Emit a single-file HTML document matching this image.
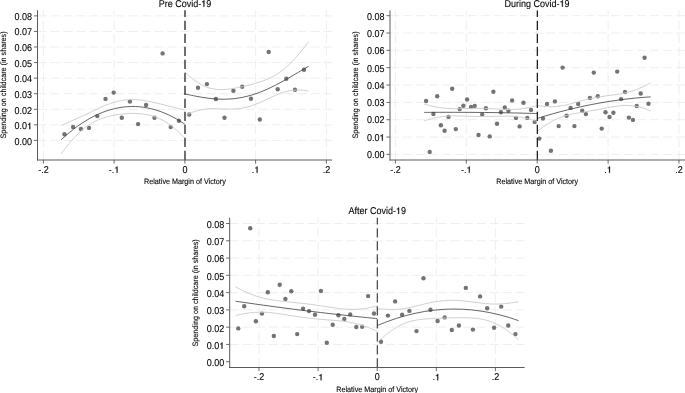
<!DOCTYPE html>
<html><head><meta charset="utf-8"><style>
html,body{margin:0;padding:0;background:#fff;}
body{width:685px;height:393px;overflow:hidden;}
svg{display:block;will-change:transform;text-rendering:geometricPrecision;}
text{font-family:"Liberation Sans", sans-serif;fill:#000;stroke:#000;stroke-width:0.1px;}
.gr{stroke:#ececec;stroke-width:0.9;stroke-dasharray:9.1 3.9;fill:none;}
.ax{stroke:#5a5a5a;stroke-width:1;}
.tk{stroke:#5a5a5a;stroke-width:0.9;}
.zl{stroke:#222;stroke-width:1.3;stroke-dasharray:9.2 3.8;}
.fit{stroke:#3c3c3c;stroke-width:0.8;fill:none;}
.ci{stroke:#cbcbcb;stroke-width:0.9;fill:none;}
.pt{fill:#737373;}
.yl{font-size:9px;text-anchor:end;}
.xl{font-size:9px;text-anchor:middle;}
.tt{font-size:9px;text-anchor:middle;}
.xt{font-size:7.2px;text-anchor:middle;}
.yt{font-size:7.2px;text-anchor:middle;}
.o1{fill:none;stroke:none;}
.one{fill:#000;stroke:#000;stroke-width:28;}
</style></head><body>
<svg width="685" height="393" viewBox="0 0 685 393">
<line x1="37.5" y1="140.4" x2="332" y2="140.4" class="gr"/>
<line x1="37.5" y1="124.84" x2="332" y2="124.84" class="gr"/>
<line x1="37.5" y1="109.27" x2="332" y2="109.27" class="gr"/>
<line x1="37.5" y1="93.71" x2="332" y2="93.71" class="gr"/>
<line x1="37.5" y1="78.14" x2="332" y2="78.14" class="gr"/>
<line x1="37.5" y1="62.58" x2="332" y2="62.58" class="gr"/>
<line x1="37.5" y1="47.01" x2="332" y2="47.01" class="gr"/>
<line x1="37.5" y1="31.45" x2="332" y2="31.45" class="gr"/>
<line x1="37.5" y1="15.88" x2="332" y2="15.88" class="gr"/>
<line x1="43.4" y1="160" x2="43.4" y2="10.2" class="gr"/>
<line x1="114.1" y1="160" x2="114.1" y2="10.2" class="gr"/>
<line x1="255.6" y1="160" x2="255.6" y2="10.2" class="gr"/>
<line x1="326.4" y1="160" x2="326.4" y2="10.2" class="gr"/>
<circle cx="64.5" cy="134.2" r="2.2" class="pt"/>
<circle cx="73.1" cy="127" r="2.2" class="pt"/>
<circle cx="80.9" cy="128.9" r="2.2" class="pt"/>
<circle cx="89" cy="127.9" r="2.2" class="pt"/>
<circle cx="97.3" cy="116.1" r="2.2" class="pt"/>
<circle cx="105.5" cy="98.9" r="2.2" class="pt"/>
<circle cx="113.7" cy="92.6" r="2.2" class="pt"/>
<circle cx="121.8" cy="117.8" r="2.2" class="pt"/>
<circle cx="129.9" cy="101.6" r="2.2" class="pt"/>
<circle cx="138.1" cy="124.1" r="2.2" class="pt"/>
<circle cx="146.1" cy="105" r="2.2" class="pt"/>
<circle cx="154.5" cy="117.8" r="2.2" class="pt"/>
<circle cx="162.6" cy="53.4" r="2.2" class="pt"/>
<circle cx="170.7" cy="127.1" r="2.2" class="pt"/>
<circle cx="178.9" cy="120.7" r="2.2" class="pt"/>
<circle cx="189.2" cy="114.5" r="2.2" class="pt"/>
<circle cx="198" cy="87.8" r="2.2" class="pt"/>
<circle cx="206.9" cy="84.1" r="2.2" class="pt"/>
<circle cx="215.9" cy="99" r="2.2" class="pt"/>
<circle cx="224.5" cy="117.8" r="2.2" class="pt"/>
<circle cx="233.4" cy="90.7" r="2.2" class="pt"/>
<circle cx="242.2" cy="86.8" r="2.2" class="pt"/>
<circle cx="251" cy="98.7" r="2.2" class="pt"/>
<circle cx="259.8" cy="119.5" r="2.2" class="pt"/>
<circle cx="268.7" cy="51.9" r="2.2" class="pt"/>
<circle cx="277.7" cy="89.2" r="2.2" class="pt"/>
<circle cx="286.3" cy="78.7" r="2.2" class="pt"/>
<circle cx="295" cy="89.7" r="2.2" class="pt"/>
<circle cx="304" cy="69.7" r="2.2" class="pt"/>
<path d="M61.1,125.62 C62.47,125 66.6,123.11 69.35,121.88 C72.1,120.64 74.84,119.45 77.59,118.21 C80.34,116.97 83.09,115.73 85.84,114.44 C88.59,113.16 91.34,111.79 94.09,110.5 C96.84,109.2 99.58,107.84 102.33,106.65 C105.08,105.47 107.83,104.33 110.58,103.39 C113.33,102.46 116.08,101.66 118.83,101.06 C121.58,100.46 124.32,100.04 127.07,99.8 C129.82,99.56 132.57,99.52 135.32,99.62 C138.07,99.72 140.82,100.02 143.57,100.41 C146.32,100.8 149.06,101.36 151.81,101.94 C154.56,102.52 157.31,103.22 160.06,103.88 C162.81,104.55 165.56,105.25 168.31,105.94 C171.06,106.63 173.8,107.31 176.55,108 C179.3,108.7 183.43,109.77 184.8,110.13" class="ci"/>
<path d="M61.1,153.95 C62.47,152.17 66.6,146.52 69.35,143.23 C72.1,139.94 74.84,136.9 77.59,134.2 C80.34,131.51 83.09,129.11 85.84,127.05 C88.59,124.98 91.34,123.29 94.09,121.83 C96.84,120.37 99.58,119.27 102.33,118.29 C105.08,117.3 107.83,116.57 110.58,115.92 C113.33,115.28 116.08,114.79 118.83,114.4 C121.58,114.01 124.32,113.74 127.07,113.58 C129.82,113.42 132.57,113.36 135.32,113.44 C138.07,113.53 140.82,113.72 143.57,114.11 C146.32,114.5 149.06,115.01 151.81,115.8 C154.56,116.59 157.31,117.56 160.06,118.85 C162.81,120.14 165.56,121.69 168.31,123.55 C171.06,125.41 173.8,127.57 176.55,130.01 C179.3,132.45 183.43,136.83 184.8,138.19" class="ci"/>
<path d="M61.1,139.79 C62.47,138.58 66.6,134.82 69.35,132.56 C72.1,130.29 74.84,128.18 77.59,126.21 C80.34,124.24 83.09,122.42 85.84,120.74 C88.59,119.07 91.34,117.54 94.09,116.16 C96.84,114.79 99.58,113.55 102.33,112.47 C105.08,111.38 107.83,110.45 110.58,109.66 C113.33,108.87 116.08,108.23 118.83,107.73 C121.58,107.24 124.32,106.89 127.07,106.69 C129.82,106.49 132.57,106.44 135.32,106.53 C138.07,106.63 140.82,106.87 143.57,107.26 C146.32,107.65 149.06,108.19 151.81,108.87 C154.56,109.55 157.31,110.39 160.06,111.37 C162.81,112.34 165.56,113.47 168.31,114.74 C171.06,116.02 173.8,117.44 176.55,119.01 C179.3,120.58 183.43,123.3 184.8,124.16" class="fit"/>
<path d="M185.3,72.61 C186.67,73.76 190.78,77.49 193.52,79.53 C196.26,81.57 199,83.41 201.74,84.85 C204.48,86.29 207.22,87.41 209.96,88.18 C212.7,88.96 215.44,89.31 218.18,89.5 C220.92,89.69 223.66,89.52 226.4,89.31 C229.14,89.09 231.88,88.66 234.62,88.21 C237.36,87.76 240.1,87.2 242.84,86.59 C245.58,85.99 248.32,85.33 251.06,84.59 C253.8,83.86 256.54,83.09 259.28,82.18 C262.02,81.27 264.76,80.33 267.5,79.13 C270.24,77.93 272.98,76.64 275.72,74.99 C278.46,73.33 281.2,71.43 283.94,69.18 C286.68,66.93 289.42,64.32 292.16,61.49 C294.9,58.65 297.64,55.48 300.38,52.17 C303.12,48.86 307.23,43.4 308.6,41.65" class="ci"/>
<path d="M185.3,115.35 C186.67,114.78 190.78,112.86 193.52,111.92 C196.26,110.98 199,110.23 201.74,109.71 C204.48,109.18 207.22,108.9 209.96,108.75 C212.7,108.6 215.44,108.73 218.18,108.8 C220.92,108.87 223.66,109.11 226.4,109.15 C229.14,109.19 231.88,109.23 234.62,109.04 C237.36,108.86 240.1,108.54 242.84,108.02 C245.58,107.5 248.32,106.78 251.06,105.91 C253.8,105.04 256.54,103.95 259.28,102.8 C262.02,101.66 264.76,100.29 267.5,99.02 C270.24,97.76 272.98,96.35 275.72,95.21 C278.46,94.06 281.2,92.96 283.94,92.15 C286.68,91.35 289.42,90.74 292.16,90.38 C294.9,90.02 297.64,89.9 300.38,90 C303.12,90.11 307.23,90.85 308.6,91.02" class="ci"/>
<path d="M185.3,93.98 C186.67,94.27 190.78,95.18 193.52,95.73 C196.26,96.28 199,96.82 201.74,97.28 C204.48,97.74 207.22,98.15 209.96,98.47 C212.7,98.78 215.44,99.02 218.18,99.15 C220.92,99.28 223.66,99.32 226.4,99.23 C229.14,99.14 231.88,98.95 234.62,98.63 C237.36,98.31 240.1,97.87 242.84,97.31 C245.58,96.74 248.32,96.05 251.06,95.25 C253.8,94.45 256.54,93.52 259.28,92.49 C262.02,91.46 264.76,90.31 267.5,89.08 C270.24,87.85 272.98,86.5 275.72,85.1 C278.46,83.69 281.2,82.19 283.94,80.67 C286.68,79.14 289.42,77.53 292.16,75.94 C294.9,74.34 297.64,72.69 300.38,71.09 C303.12,69.49 307.23,67.13 308.6,66.33" class="fit"/>
<line x1="185" y1="160" x2="185" y2="10.2" class="zl" style="stroke:#222"/>
<line x1="37.5" y1="10.2" x2="37.5" y2="160.5" class="ax"/>
<line x1="37" y1="160" x2="332" y2="160" class="ax"/>
<line x1="33.9" y1="140.4" x2="37.5" y2="140.4" class="tk"/>
<text transform="translate(32.1,144.8) scale(1,1.1)" class="yl">0.00</text>
<line x1="33.9" y1="124.84" x2="37.5" y2="124.84" class="tk"/>
<g transform="translate(32.1,129.16) scale(1,1.1)"><text class="yl">0.0<tspan class="o1">1</tspan></text><path d="M347 0V709H289C258 600 238 585 102 568V505H259V0Z" class="one" transform="translate(-5.031,0) scale(0.00900,-0.00818)"/></g>
<line x1="33.9" y1="109.27" x2="37.5" y2="109.27" class="tk"/>
<text transform="translate(32.1,113.52) scale(1,1.1)" class="yl">0.02</text>
<line x1="33.9" y1="93.71" x2="37.5" y2="93.71" class="tk"/>
<text transform="translate(32.1,97.88) scale(1,1.1)" class="yl">0.03</text>
<line x1="33.9" y1="78.14" x2="37.5" y2="78.14" class="tk"/>
<text transform="translate(32.1,82.24) scale(1,1.1)" class="yl">0.04</text>
<line x1="33.9" y1="62.58" x2="37.5" y2="62.58" class="tk"/>
<text transform="translate(32.1,66.6) scale(1,1.1)" class="yl">0.05</text>
<line x1="33.9" y1="47.01" x2="37.5" y2="47.01" class="tk"/>
<text transform="translate(32.1,50.96) scale(1,1.1)" class="yl">0.06</text>
<line x1="33.9" y1="31.45" x2="37.5" y2="31.45" class="tk"/>
<text transform="translate(32.1,35.32) scale(1,1.1)" class="yl">0.07</text>
<line x1="33.9" y1="15.88" x2="37.5" y2="15.88" class="tk"/>
<text transform="translate(32.1,19.68) scale(1,1.1)" class="yl">0.08</text>
<line x1="43.4" y1="160" x2="43.4" y2="163.6" class="tk"/>
<text transform="translate(43.4,172.8) scale(1,1.1)" class="xl">-.2</text>
<line x1="114.1" y1="160" x2="114.1" y2="163.6" class="tk"/>
<g transform="translate(114.1,172.8) scale(1,1.1)"><text class="xl">-.<tspan class="o1">1</tspan></text><path d="M347 0V709H289C258 600 238 585 102 568V505H259V0Z" class="one" transform="translate(0.227,0) scale(0.00900,-0.00818)"/></g>
<line x1="184.9" y1="160" x2="184.9" y2="163.6" class="tk"/>
<text transform="translate(184.9,172.8) scale(1,1.1)" class="xl">0</text>
<line x1="255.6" y1="160" x2="255.6" y2="163.6" class="tk"/>
<g transform="translate(255.6,172.8) scale(1,1.1)"><text class="xl">.<tspan class="o1">1</tspan></text><path d="M347 0V709H289C258 600 238 585 102 568V505H259V0Z" class="one" transform="translate(-1.258,0) scale(0.00900,-0.00818)"/></g>
<line x1="326.4" y1="160" x2="326.4" y2="163.6" class="tk"/>
<text transform="translate(326.4,172.8) scale(1,1.1)" class="xl">.2</text>
<g transform="translate(185,6.7) scale(1,1.1)"><text class="tt">Pre Covid-<tspan class="o1">1</tspan>9</text><path d="M347 0V709H289C258 600 238 585 102 568V505H259V0Z" class="one" transform="translate(16.234,0) scale(0.00900,-0.00818)"/></g>
<text transform="translate(184.9,183.8) scale(1,1.1)" class="xt">Relative Margin of Victory</text>
<text transform="translate(6,85) rotate(-90) scale(1,1.1)" class="yt">Spending on childcare (in shares)</text>
<line x1="390" y1="154.4" x2="686" y2="154.4" class="gr"/>
<line x1="390" y1="137.06" x2="686" y2="137.06" class="gr"/>
<line x1="390" y1="119.72" x2="686" y2="119.72" class="gr"/>
<line x1="390" y1="102.38" x2="686" y2="102.38" class="gr"/>
<line x1="390" y1="85.04" x2="686" y2="85.04" class="gr"/>
<line x1="390" y1="67.7" x2="686" y2="67.7" class="gr"/>
<line x1="390" y1="50.36" x2="686" y2="50.36" class="gr"/>
<line x1="390" y1="33.02" x2="686" y2="33.02" class="gr"/>
<line x1="390" y1="15.68" x2="686" y2="15.68" class="gr"/>
<line x1="395.4" y1="160" x2="395.4" y2="10.4" class="gr"/>
<line x1="466.3" y1="160" x2="466.3" y2="10.4" class="gr"/>
<line x1="608.1" y1="160" x2="608.1" y2="10.4" class="gr"/>
<line x1="679" y1="160" x2="679" y2="10.4" class="gr"/>
<circle cx="426.1" cy="101" r="2.2" class="pt"/>
<circle cx="429.7" cy="151.9" r="2.2" class="pt"/>
<circle cx="433.4" cy="114" r="2.2" class="pt"/>
<circle cx="437.2" cy="96.3" r="2.2" class="pt"/>
<circle cx="440.9" cy="125.2" r="2.2" class="pt"/>
<circle cx="444.6" cy="130.7" r="2.2" class="pt"/>
<circle cx="448.5" cy="116.9" r="2.2" class="pt"/>
<circle cx="452.2" cy="88.8" r="2.2" class="pt"/>
<circle cx="455.8" cy="129.1" r="2.2" class="pt"/>
<circle cx="459.7" cy="109.1" r="2.2" class="pt"/>
<circle cx="463.4" cy="105.8" r="2.2" class="pt"/>
<circle cx="467.1" cy="99.5" r="2.2" class="pt"/>
<circle cx="471" cy="106.9" r="2.2" class="pt"/>
<circle cx="474.7" cy="105.9" r="2.2" class="pt"/>
<circle cx="478.5" cy="135" r="2.2" class="pt"/>
<circle cx="482.2" cy="114.6" r="2.2" class="pt"/>
<circle cx="485.9" cy="108.3" r="2.2" class="pt"/>
<circle cx="489.7" cy="136.4" r="2.2" class="pt"/>
<circle cx="493.4" cy="91.8" r="2.2" class="pt"/>
<circle cx="497" cy="123.8" r="2.2" class="pt"/>
<circle cx="500.9" cy="112.2" r="2.2" class="pt"/>
<circle cx="504.8" cy="107.5" r="2.2" class="pt"/>
<circle cx="508.4" cy="110.7" r="2.2" class="pt"/>
<circle cx="512.1" cy="100.4" r="2.2" class="pt"/>
<circle cx="516" cy="117.9" r="2.2" class="pt"/>
<circle cx="519.6" cy="126.4" r="2.2" class="pt"/>
<circle cx="523.5" cy="102.8" r="2.2" class="pt"/>
<circle cx="527.3" cy="117.9" r="2.2" class="pt"/>
<circle cx="531" cy="109.9" r="2.2" class="pt"/>
<circle cx="534.7" cy="121.9" r="2.2" class="pt"/>
<circle cx="539.3" cy="138.6" r="2.2" class="pt"/>
<circle cx="543" cy="118.6" r="2.2" class="pt"/>
<circle cx="547" cy="103.9" r="2.2" class="pt"/>
<circle cx="550.9" cy="150.8" r="2.2" class="pt"/>
<circle cx="554.9" cy="101.4" r="2.2" class="pt"/>
<circle cx="558.7" cy="126.1" r="2.2" class="pt"/>
<circle cx="562.6" cy="67.6" r="2.2" class="pt"/>
<circle cx="566.6" cy="115.8" r="2.2" class="pt"/>
<circle cx="570.6" cy="107.9" r="2.2" class="pt"/>
<circle cx="574.4" cy="126.1" r="2.2" class="pt"/>
<circle cx="578.2" cy="104" r="2.2" class="pt"/>
<circle cx="582.2" cy="110.8" r="2.2" class="pt"/>
<circle cx="585.9" cy="114.1" r="2.2" class="pt"/>
<circle cx="589.9" cy="98" r="2.2" class="pt"/>
<circle cx="593.8" cy="72.6" r="2.2" class="pt"/>
<circle cx="597.8" cy="96.2" r="2.2" class="pt"/>
<circle cx="601.7" cy="128.6" r="2.2" class="pt"/>
<circle cx="605.5" cy="112.3" r="2.2" class="pt"/>
<circle cx="609.5" cy="117" r="2.2" class="pt"/>
<circle cx="613.4" cy="112.7" r="2.2" class="pt"/>
<circle cx="617.2" cy="71.6" r="2.2" class="pt"/>
<circle cx="621.1" cy="99.1" r="2.2" class="pt"/>
<circle cx="625" cy="92" r="2.2" class="pt"/>
<circle cx="628.9" cy="117.6" r="2.2" class="pt"/>
<circle cx="633" cy="119.9" r="2.2" class="pt"/>
<circle cx="636.7" cy="106" r="2.2" class="pt"/>
<circle cx="640.7" cy="93.5" r="2.2" class="pt"/>
<circle cx="644.6" cy="57.7" r="2.2" class="pt"/>
<circle cx="648.5" cy="103.8" r="2.2" class="pt"/>
<path d="M424.2,104.02 C425.46,104.37 429.22,105.47 431.73,106.07 C434.24,106.66 436.76,107.19 439.27,107.6 C441.78,108 444.29,108.3 446.8,108.5 C449.31,108.7 451.82,108.75 454.33,108.78 C456.84,108.81 459.36,108.72 461.87,108.67 C464.38,108.62 466.89,108.52 469.4,108.47 C471.91,108.42 474.42,108.38 476.93,108.38 C479.44,108.38 481.96,108.41 484.47,108.47 C486.98,108.53 489.49,108.64 492,108.75 C494.51,108.87 497.02,109.04 499.53,109.16 C502.04,109.29 504.56,109.46 507.07,109.52 C509.58,109.57 512.09,109.6 514.6,109.48 C517.11,109.36 519.62,109.13 522.13,108.79 C524.64,108.45 527.16,107.97 529.67,107.44 C532.18,106.9 535.94,105.87 537.2,105.55" class="ci"/>
<path d="M424.2,120.78 C425.46,120.42 429.22,119.25 431.73,118.63 C434.24,118 436.76,117.45 439.27,117.03 C441.78,116.61 444.29,116.3 446.8,116.09 C449.31,115.89 451.82,115.84 454.33,115.82 C456.84,115.8 459.36,115.9 461.87,115.97 C464.38,116.04 466.89,116.17 469.4,116.25 C471.91,116.33 474.42,116.41 476.93,116.45 C479.44,116.5 481.96,116.52 484.47,116.51 C486.98,116.5 489.49,116.46 492,116.41 C494.51,116.36 497.02,116.27 499.53,116.23 C502.04,116.18 504.56,116.1 507.07,116.14 C509.58,116.18 512.09,116.24 514.6,116.47 C517.11,116.69 519.62,117.04 522.13,117.49 C524.64,117.95 527.16,118.55 529.67,119.22 C532.18,119.88 535.94,121.12 537.2,121.5" class="ci"/>
<path d="M424.2,112.4 C425.46,112.39 429.22,112.36 431.73,112.35 C434.24,112.33 436.76,112.32 439.27,112.31 C441.78,112.3 444.29,112.3 446.8,112.3 C449.31,112.29 451.82,112.29 454.33,112.3 C456.84,112.3 459.36,112.31 461.87,112.32 C464.38,112.33 466.89,112.34 469.4,112.36 C471.91,112.37 474.42,112.39 476.93,112.41 C479.44,112.44 481.96,112.46 484.47,112.49 C486.98,112.52 489.49,112.55 492,112.58 C494.51,112.62 497.02,112.65 499.53,112.7 C502.04,112.74 504.56,112.78 507.07,112.83 C509.58,112.87 512.09,112.92 514.6,112.97 C517.11,113.03 519.62,113.08 522.13,113.14 C524.64,113.2 527.16,113.26 529.67,113.33 C532.18,113.39 535.94,113.49 537.2,113.53" class="fit"/>
<path d="M537.5,105.56 C538.76,105.71 542.53,106.28 545.05,106.47 C547.56,106.65 550.08,106.76 552.59,106.69 C555.11,106.62 557.62,106.41 560.14,106.06 C562.66,105.7 565.17,105.14 567.69,104.56 C570.2,103.97 572.72,103.22 575.23,102.54 C577.75,101.86 580.26,101.12 582.78,100.47 C585.3,99.81 587.81,99.18 590.33,98.63 C592.84,98.07 595.36,97.58 597.87,97.13 C600.39,96.69 602.9,96.32 605.42,95.96 C607.94,95.6 610.45,95.32 612.97,94.97 C615.48,94.62 618,94.32 620.51,93.86 C623.03,93.41 625.54,92.92 628.06,92.25 C630.58,91.58 633.09,90.79 635.61,89.86 C638.12,88.94 640.64,87.87 643.15,86.71 C645.67,85.55 649.44,83.53 650.7,82.9" class="ci"/>
<path d="M537.5,131.12 C538.76,130.2 542.53,127.27 545.05,125.58 C547.56,123.89 550.08,122.33 552.59,120.98 C555.11,119.63 557.62,118.46 560.14,117.48 C562.66,116.5 565.17,115.77 567.69,115.1 C570.2,114.44 572.72,113.98 575.23,113.5 C577.75,113.01 580.26,112.63 582.78,112.2 C585.3,111.77 587.81,111.36 590.33,110.92 C592.84,110.48 595.36,110.02 597.87,109.55 C600.39,109.08 602.9,108.58 605.42,108.11 C607.94,107.64 610.45,107.14 612.97,106.74 C615.48,106.35 618,105.95 620.51,105.74 C623.03,105.53 625.54,105.41 628.06,105.5 C630.58,105.59 633.09,105.85 635.61,106.28 C638.12,106.71 640.64,107.34 643.15,108.09 C645.67,108.84 649.44,110.35 650.7,110.8" class="ci"/>
<path d="M537.5,118.34 C538.76,117.96 542.53,116.78 545.05,116.02 C547.56,115.27 550.08,114.54 552.59,113.83 C555.11,113.12 557.62,112.44 560.14,111.77 C562.66,111.1 565.17,110.46 567.69,109.83 C570.2,109.21 572.72,108.6 575.23,108.02 C577.75,107.44 580.26,106.87 582.78,106.33 C585.3,105.79 587.81,105.27 590.33,104.77 C592.84,104.27 595.36,103.8 597.87,103.34 C600.39,102.88 602.9,102.45 605.42,102.03 C607.94,101.62 610.45,101.23 612.97,100.85 C615.48,100.48 618,100.13 620.51,99.8 C623.03,99.47 625.54,99.16 628.06,98.87 C630.58,98.59 633.09,98.32 635.61,98.07 C638.12,97.83 640.64,97.6 643.15,97.4 C645.67,97.2 649.44,96.94 650.7,96.85" class="fit"/>
<line x1="537.35" y1="160" x2="537.35" y2="10.4" class="zl" style="stroke:#222"/>
<line x1="390" y1="10.4" x2="390" y2="160.5" class="ax"/>
<line x1="389.5" y1="160" x2="686" y2="160" class="ax"/>
<line x1="386.4" y1="154.4" x2="390" y2="154.4" class="tk"/>
<text transform="translate(384.6,158) scale(1,1.1)" class="yl">0.00</text>
<line x1="386.4" y1="137.06" x2="390" y2="137.06" class="tk"/>
<g transform="translate(384.6,140.71) scale(1,1.1)"><text class="yl">0.0<tspan class="o1">1</tspan></text><path d="M347 0V709H289C258 600 238 585 102 568V505H259V0Z" class="one" transform="translate(-5.031,0) scale(0.00900,-0.00818)"/></g>
<line x1="386.4" y1="119.72" x2="390" y2="119.72" class="tk"/>
<text transform="translate(384.6,123.42) scale(1,1.1)" class="yl">0.02</text>
<line x1="386.4" y1="102.38" x2="390" y2="102.38" class="tk"/>
<text transform="translate(384.6,106.13) scale(1,1.1)" class="yl">0.03</text>
<line x1="386.4" y1="85.04" x2="390" y2="85.04" class="tk"/>
<text transform="translate(384.6,88.84) scale(1,1.1)" class="yl">0.04</text>
<line x1="386.4" y1="67.7" x2="390" y2="67.7" class="tk"/>
<text transform="translate(384.6,71.55) scale(1,1.1)" class="yl">0.05</text>
<line x1="386.4" y1="50.36" x2="390" y2="50.36" class="tk"/>
<text transform="translate(384.6,54.26) scale(1,1.1)" class="yl">0.06</text>
<line x1="386.4" y1="33.02" x2="390" y2="33.02" class="tk"/>
<text transform="translate(384.6,36.97) scale(1,1.1)" class="yl">0.07</text>
<line x1="386.4" y1="15.68" x2="390" y2="15.68" class="tk"/>
<text transform="translate(384.6,19.68) scale(1,1.1)" class="yl">0.08</text>
<line x1="395.4" y1="160" x2="395.4" y2="163.6" class="tk"/>
<text transform="translate(395.4,172.8) scale(1,1.1)" class="xl">-.2</text>
<line x1="466.3" y1="160" x2="466.3" y2="163.6" class="tk"/>
<g transform="translate(466.3,172.8) scale(1,1.1)"><text class="xl">-.<tspan class="o1">1</tspan></text><path d="M347 0V709H289C258 600 238 585 102 568V505H259V0Z" class="one" transform="translate(0.227,0) scale(0.00900,-0.00818)"/></g>
<line x1="537.2" y1="160" x2="537.2" y2="163.6" class="tk"/>
<text transform="translate(537.2,172.8) scale(1,1.1)" class="xl">0</text>
<line x1="608.1" y1="160" x2="608.1" y2="163.6" class="tk"/>
<g transform="translate(608.1,172.8) scale(1,1.1)"><text class="xl">.<tspan class="o1">1</tspan></text><path d="M347 0V709H289C258 600 238 585 102 568V505H259V0Z" class="one" transform="translate(-1.258,0) scale(0.00900,-0.00818)"/></g>
<line x1="679" y1="160" x2="679" y2="163.6" class="tk"/>
<text transform="translate(679,172.8) scale(1,1.1)" class="xl">.2</text>
<g transform="translate(537.1,6.7) scale(1,1.1)"><text class="tt">During Covid-<tspan class="o1">1</tspan>9</text><path d="M347 0V709H289C258 600 238 585 102 568V505H259V0Z" class="one" transform="translate(22.500,0) scale(0.00900,-0.00818)"/></g>
<text transform="translate(537.2,183.8) scale(1,1.1)" class="xt">Relative Margin of Victory</text>
<text transform="translate(358.2,85) rotate(-90) scale(1,1.1)" class="yt">Spending on childcare (in shares)</text>
<line x1="229.7" y1="344.43" x2="524.6" y2="344.43" class="gr"/>
<line x1="229.7" y1="327.15" x2="524.6" y2="327.15" class="gr"/>
<line x1="229.7" y1="309.88" x2="524.6" y2="309.88" class="gr"/>
<line x1="229.7" y1="292.6" x2="524.6" y2="292.6" class="gr"/>
<line x1="229.7" y1="275.32" x2="524.6" y2="275.32" class="gr"/>
<line x1="229.7" y1="258.05" x2="524.6" y2="258.05" class="gr"/>
<line x1="229.7" y1="240.78" x2="524.6" y2="240.78" class="gr"/>
<line x1="229.7" y1="223.5" x2="524.6" y2="223.5" class="gr"/>
<line x1="259" y1="367.5" x2="259" y2="217.7" class="gr"/>
<line x1="318.1" y1="367.5" x2="318.1" y2="217.7" class="gr"/>
<line x1="436.3" y1="367.5" x2="436.3" y2="217.7" class="gr"/>
<line x1="495.4" y1="367.5" x2="495.4" y2="217.7" class="gr"/>
<circle cx="238.3" cy="328.4" r="2.2" class="pt"/>
<circle cx="244.2" cy="306.2" r="2.2" class="pt"/>
<circle cx="250.2" cy="228.2" r="2.2" class="pt"/>
<circle cx="255.9" cy="321.3" r="2.2" class="pt"/>
<circle cx="262" cy="313.6" r="2.2" class="pt"/>
<circle cx="267.8" cy="292.3" r="2.2" class="pt"/>
<circle cx="273.8" cy="336" r="2.2" class="pt"/>
<circle cx="279.7" cy="284.7" r="2.2" class="pt"/>
<circle cx="285.4" cy="298.9" r="2.2" class="pt"/>
<circle cx="291.3" cy="291.2" r="2.2" class="pt"/>
<circle cx="297.2" cy="334.1" r="2.2" class="pt"/>
<circle cx="303.1" cy="308.7" r="2.2" class="pt"/>
<circle cx="309" cy="311.1" r="2.2" class="pt"/>
<circle cx="315" cy="314.8" r="2.2" class="pt"/>
<circle cx="320.9" cy="291" r="2.2" class="pt"/>
<circle cx="326.8" cy="342.7" r="2.2" class="pt"/>
<circle cx="332.7" cy="324.8" r="2.2" class="pt"/>
<circle cx="338.4" cy="315.2" r="2.2" class="pt"/>
<circle cx="344.3" cy="318.9" r="2.2" class="pt"/>
<circle cx="350.2" cy="314.4" r="2.2" class="pt"/>
<circle cx="356.3" cy="327" r="2.2" class="pt"/>
<circle cx="362.2" cy="326.7" r="2.2" class="pt"/>
<circle cx="368.1" cy="296.1" r="2.2" class="pt"/>
<circle cx="374" cy="313.5" r="2.2" class="pt"/>
<circle cx="381" cy="341.8" r="2.2" class="pt"/>
<circle cx="387.9" cy="315.6" r="2.2" class="pt"/>
<circle cx="395.1" cy="301.4" r="2.2" class="pt"/>
<circle cx="402.1" cy="314.8" r="2.2" class="pt"/>
<circle cx="409.4" cy="310.9" r="2.2" class="pt"/>
<circle cx="416.5" cy="331.1" r="2.2" class="pt"/>
<circle cx="423.5" cy="278.2" r="2.2" class="pt"/>
<circle cx="430.5" cy="309.7" r="2.2" class="pt"/>
<circle cx="437.6" cy="321" r="2.2" class="pt"/>
<circle cx="444.7" cy="317.4" r="2.2" class="pt"/>
<circle cx="451.8" cy="330" r="2.2" class="pt"/>
<circle cx="458.9" cy="325.5" r="2.2" class="pt"/>
<circle cx="465.8" cy="287.9" r="2.2" class="pt"/>
<circle cx="472.9" cy="329.6" r="2.2" class="pt"/>
<circle cx="480.1" cy="296.4" r="2.2" class="pt"/>
<circle cx="487.2" cy="308.2" r="2.2" class="pt"/>
<circle cx="494.1" cy="327.7" r="2.2" class="pt"/>
<circle cx="501.2" cy="306.6" r="2.2" class="pt"/>
<circle cx="508.3" cy="325.5" r="2.2" class="pt"/>
<circle cx="515.4" cy="334.1" r="2.2" class="pt"/>
<path d="M235.5,286.92 C237.07,287.7 241.79,290.19 244.94,291.62 C248.09,293.04 251.23,294.33 254.38,295.45 C257.53,296.56 260.67,297.5 263.82,298.29 C266.97,299.07 270.11,299.64 273.26,300.15 C276.41,300.66 279.55,300.99 282.7,301.35 C285.85,301.7 288.99,301.96 292.14,302.28 C295.29,302.6 298.43,302.89 301.58,303.25 C304.73,303.6 307.87,303.97 311.02,304.39 C314.17,304.8 317.31,305.26 320.46,305.72 C323.61,306.19 326.75,306.71 329.9,307.18 C333.05,307.64 336.19,308.15 339.34,308.51 C342.49,308.87 345.63,309.21 348.78,309.33 C351.93,309.45 355.07,309.43 358.22,309.22 C361.37,309.01 364.51,308.61 367.66,308.07 C370.81,307.53 375.53,306.33 377.1,305.98" class="ci"/>
<path d="M235.5,315.45 C237.07,315.13 241.79,314.03 244.94,313.53 C248.09,313.02 251.23,312.63 254.38,312.41 C257.53,312.19 260.67,312.13 263.82,312.21 C266.97,312.3 270.11,312.59 273.26,312.93 C276.41,313.27 279.55,313.78 282.7,314.25 C285.85,314.73 288.99,315.28 292.14,315.77 C295.29,316.26 298.43,316.76 301.58,317.19 C304.73,317.62 307.87,318.02 311.02,318.37 C314.17,318.72 317.31,319.01 320.46,319.29 C323.61,319.56 326.75,319.77 329.9,320.03 C333.05,320.28 336.19,320.48 339.34,320.82 C342.49,321.16 345.63,321.51 348.78,322.07 C351.93,322.62 355.07,323.31 358.22,324.17 C361.37,325.04 364.51,326.08 367.66,327.26 C370.81,328.43 375.53,330.55 377.1,331.21" class="ci"/>
<path d="M235.5,301.18 C237.07,301.41 241.79,302.11 244.94,302.57 C248.09,303.03 251.23,303.48 254.38,303.93 C257.53,304.37 260.67,304.81 263.82,305.25 C266.97,305.69 270.11,306.12 273.26,306.54 C276.41,306.97 279.55,307.38 282.7,307.8 C285.85,308.21 288.99,308.62 292.14,309.02 C295.29,309.43 298.43,309.83 301.58,310.22 C304.73,310.61 307.87,311 311.02,311.38 C314.17,311.76 317.31,312.14 320.46,312.51 C323.61,312.88 326.75,313.24 329.9,313.6 C333.05,313.96 336.19,314.32 339.34,314.67 C342.49,315.01 345.63,315.36 348.78,315.7 C351.93,316.03 355.07,316.37 358.22,316.69 C361.37,317.02 364.51,317.34 367.66,317.66 C370.81,317.98 375.53,318.44 377.1,318.59" class="fit"/>
<path d="M377.4,308.61 C378.97,308.73 383.68,309.21 386.81,309.33 C389.95,309.45 393.09,309.51 396.23,309.35 C399.36,309.18 402.5,308.85 405.64,308.35 C408.78,307.85 411.92,307.07 415.05,306.34 C418.19,305.61 421.33,304.7 424.47,303.97 C427.6,303.24 430.74,302.5 433.88,301.96 C437.02,301.41 440.16,300.96 443.29,300.69 C446.43,300.41 449.57,300.28 452.71,300.29 C455.84,300.3 458.98,300.48 462.12,300.74 C465.26,300.99 468.4,301.43 471.53,301.83 C474.67,302.22 477.81,302.76 480.95,303.12 C484.08,303.48 487.22,303.84 490.36,303.99 C493.5,304.13 496.64,304.13 499.77,303.99 C502.91,303.85 506.05,303.54 509.19,303.15 C512.32,302.77 517.03,301.92 518.6,301.67" class="ci"/>
<path d="M377.4,342.43 C378.97,341.05 383.68,336.61 386.81,334.12 C389.95,331.63 393.09,329.38 396.23,327.51 C399.36,325.63 402.5,324.1 405.64,322.89 C408.78,321.69 411.92,320.93 415.05,320.29 C418.19,319.65 421.33,319.35 424.47,319.04 C427.6,318.73 430.74,318.59 433.88,318.42 C437.02,318.26 440.16,318.16 443.29,318.06 C446.43,317.95 449.57,317.86 452.71,317.8 C455.84,317.75 458.98,317.68 462.12,317.7 C465.26,317.73 468.4,317.74 471.53,317.96 C474.67,318.17 477.81,318.41 480.95,318.99 C484.08,319.58 487.22,320.32 490.36,321.45 C493.5,322.58 496.64,324.02 499.77,325.76 C502.91,327.5 506.05,329.58 509.19,331.91 C512.32,334.23 517.03,338.39 518.6,339.69" class="ci"/>
<path d="M377.4,325.52 C378.97,324.89 383.68,322.91 386.81,321.72 C389.95,320.54 393.09,319.44 396.23,318.43 C399.36,317.41 402.5,316.47 405.64,315.62 C408.78,314.77 411.92,314 415.05,313.32 C418.19,312.63 421.33,312.03 424.47,311.5 C427.6,310.98 430.74,310.55 433.88,310.19 C437.02,309.83 440.16,309.56 443.29,309.37 C446.43,309.18 449.57,309.07 452.71,309.05 C455.84,309.02 458.98,309.08 462.12,309.22 C465.26,309.36 468.4,309.59 471.53,309.89 C474.67,310.2 477.81,310.59 480.95,311.06 C484.08,311.53 487.22,312.08 490.36,312.72 C493.5,313.35 496.64,314.07 499.77,314.88 C502.91,315.68 506.05,316.56 509.19,317.53 C512.32,318.5 517.03,320.15 518.6,320.68" class="fit"/>
<line x1="377.35" y1="367.5" x2="377.35" y2="217.7" class="zl" style="stroke:#505050"/>
<line x1="229.7" y1="217.7" x2="229.7" y2="368" class="ax"/>
<line x1="229.2" y1="367.5" x2="524.6" y2="367.5" class="ax"/>
<line x1="226.1" y1="361.7" x2="229.7" y2="361.7" class="tk"/>
<text transform="translate(224.3,366.1) scale(1,1.1)" class="yl">0.00</text>
<line x1="226.1" y1="344.43" x2="229.7" y2="344.43" class="tk"/>
<g transform="translate(224.3,348.82) scale(1,1.1)"><text class="yl">0.0<tspan class="o1">1</tspan></text><path d="M347 0V709H289C258 600 238 585 102 568V505H259V0Z" class="one" transform="translate(-5.031,0) scale(0.00900,-0.00818)"/></g>
<line x1="226.1" y1="327.15" x2="229.7" y2="327.15" class="tk"/>
<text transform="translate(224.3,331.55) scale(1,1.1)" class="yl">0.02</text>
<line x1="226.1" y1="309.88" x2="229.7" y2="309.88" class="tk"/>
<text transform="translate(224.3,314.27) scale(1,1.1)" class="yl">0.03</text>
<line x1="226.1" y1="292.6" x2="229.7" y2="292.6" class="tk"/>
<text transform="translate(224.3,297) scale(1,1.1)" class="yl">0.04</text>
<line x1="226.1" y1="275.32" x2="229.7" y2="275.32" class="tk"/>
<text transform="translate(224.3,279.72) scale(1,1.1)" class="yl">0.05</text>
<line x1="226.1" y1="258.05" x2="229.7" y2="258.05" class="tk"/>
<text transform="translate(224.3,262.45) scale(1,1.1)" class="yl">0.06</text>
<line x1="226.1" y1="240.78" x2="229.7" y2="240.78" class="tk"/>
<text transform="translate(224.3,245.18) scale(1,1.1)" class="yl">0.07</text>
<line x1="226.1" y1="223.5" x2="229.7" y2="223.5" class="tk"/>
<text transform="translate(224.3,227.9) scale(1,1.1)" class="yl">0.08</text>
<line x1="259" y1="367.5" x2="259" y2="371.1" class="tk"/>
<text transform="translate(259,380.3) scale(1,1.1)" class="xl">-.2</text>
<line x1="318.1" y1="367.5" x2="318.1" y2="371.1" class="tk"/>
<g transform="translate(318.1,380.3) scale(1,1.1)"><text class="xl">-.<tspan class="o1">1</tspan></text><path d="M347 0V709H289C258 600 238 585 102 568V505H259V0Z" class="one" transform="translate(0.227,0) scale(0.00900,-0.00818)"/></g>
<line x1="377.2" y1="367.5" x2="377.2" y2="371.1" class="tk"/>
<text transform="translate(377.2,380.3) scale(1,1.1)" class="xl">0</text>
<line x1="436.3" y1="367.5" x2="436.3" y2="371.1" class="tk"/>
<g transform="translate(436.3,380.3) scale(1,1.1)"><text class="xl">.<tspan class="o1">1</tspan></text><path d="M347 0V709H289C258 600 238 585 102 568V505H259V0Z" class="one" transform="translate(-1.258,0) scale(0.00900,-0.00818)"/></g>
<line x1="495.4" y1="367.5" x2="495.4" y2="371.1" class="tk"/>
<text transform="translate(495.4,380.3) scale(1,1.1)" class="xl">.2</text>
<g transform="translate(377.2,213.9) scale(1,1.1)"><text class="tt">After Covid-<tspan class="o1">1</tspan>9</text><path d="M347 0V709H289C258 600 238 585 102 568V505H259V0Z" class="one" transform="translate(18.734,0) scale(0.00900,-0.00818)"/></g>
<text transform="translate(377.2,391.8) scale(1,1.1)" class="xt">Relative Margin of Victory</text>
<text transform="translate(197.8,292.9) rotate(-90) scale(1,1.1)" class="yt">Spending on childcare (in shares)</text>
</svg>
</body></html>
